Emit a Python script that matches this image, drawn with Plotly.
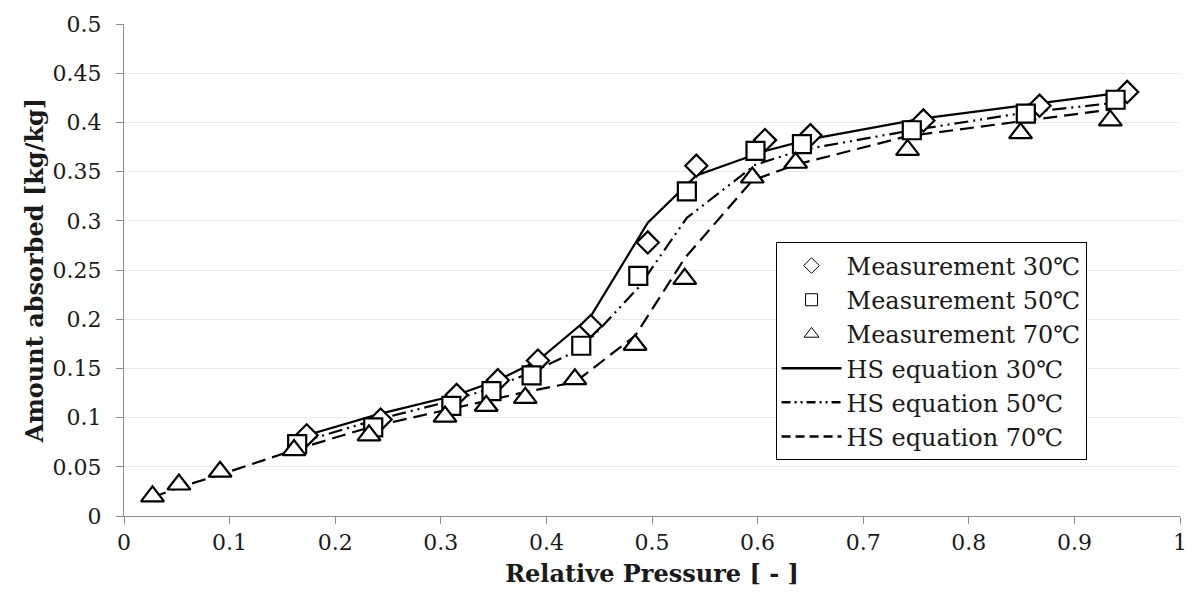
import plotly.graph_objects as go

# Measurement data
x_m30 = [0.173, 0.243, 0.315, 0.354, 0.392, 0.442, 0.496, 0.542, 0.607, 0.650, 0.757, 0.867, 0.950]
y_m30 = [0.082, 0.098, 0.123, 0.138, 0.158, 0.193, 0.278, 0.356, 0.382, 0.387, 0.402, 0.417, 0.431]

x_m50 = [0.164, 0.236, 0.310, 0.348, 0.386, 0.433, 0.487, 0.533, 0.598, 0.642, 0.746, 0.854, 0.939]
y_m50 = [0.073, 0.090, 0.112, 0.127, 0.143, 0.173, 0.244, 0.330, 0.371, 0.378, 0.392, 0.409, 0.423]

x_m70 = [0.027, 0.052, 0.091, 0.161, 0.232, 0.304, 0.343, 0.380, 0.427, 0.484, 0.531, 0.595, 0.636, 0.742, 0.849, 0.934]
y_m70 = [0.020, 0.032, 0.045, 0.067, 0.082, 0.101, 0.112, 0.120, 0.139, 0.174, 0.241, 0.344, 0.359, 0.372, 0.389, 0.402]

# HS equation curves
y_hs30 = [0.082, 0.104, 0.123, 0.138, 0.158, 0.203, 0.298, 0.346, 0.371, 0.383, 0.404, 0.419, 0.431]
y_hs50 = [0.074, 0.097, 0.117, 0.130, 0.146, 0.170, 0.232, 0.303, 0.357, 0.372, 0.392, 0.410, 0.420]
y_hs70 = [0.019, 0.029, 0.042, 0.067, 0.090, 0.108, 0.117, 0.126, 0.136, 0.183, 0.262, 0.341, 0.357, 0.386, 0.401, 0.413]

names = ["Measurement 30℃", "Measurement 50℃", "Measurement 70℃",
         "HS equation 30℃", "HS equation 50℃", "HS equation 70℃"]

FONT = "DejaVu Serif"
TXT = "#1a1a1a"
line_w = 2.2
DASHDOT = "14px,5px,2px,5px,2px,5px"
DASH = "14px,7px"

fig = go.Figure()

# Curves (drawn beneath markers)
fig.add_trace(go.Scatter(x=x_m30, y=y_hs30, mode="lines", showlegend=False,
                         line=dict(color="black", width=line_w)))
fig.add_trace(go.Scatter(x=x_m50, y=y_hs50, mode="lines", showlegend=False,
                         line=dict(color="black", width=line_w, dash=DASHDOT)))
fig.add_trace(go.Scatter(x=x_m70, y=y_hs70, mode="lines", showlegend=False,
                         line=dict(color="black", width=line_w, dash=DASH)))

# Measurements
fig.add_trace(go.Scatter(x=x_m30, y=y_m30, mode="markers", showlegend=False,
                         marker=dict(symbol="diamond", size=17, color="white",
                                     line=dict(color="black", width=2.2))))
fig.add_trace(go.Scatter(x=x_m50, y=y_m50, mode="markers", showlegend=False,
                         marker=dict(symbol="square", size=18, color="white",
                                     line=dict(color="black", width=2.2))))
fig.add_trace(go.Scatter(x=x_m70, y=y_m70, mode="markers", showlegend=False,
                         marker=dict(symbol="triangle-up", size=20, color="white",
                                     line=dict(color="black", width=2.2))))

# Legend entries (small thin markers as in the original legend)
legend_specs = [
    dict(mode="markers", marker=dict(symbol="diamond", size=12, color="white", line=dict(color="black", width=1))),
    dict(mode="markers", marker=dict(symbol="square", size=12, color="white", line=dict(color="black", width=1))),
    dict(mode="markers", marker=dict(symbol="triangle-up", size=13, color="white", line=dict(color="black", width=1))),
    dict(mode="lines", line=dict(color="black", width=2.5)),
    dict(mode="lines", line=dict(color="black", width=2.5, dash="9px,4px,2px,4px,2px,4px")),
    dict(mode="lines", line=dict(color="black", width=2.5, dash="9px,5px")),
]
for nm, spec in zip(names, legend_specs):
    fig.add_trace(go.Scatter(x=[None], y=[None], name=nm, showlegend=True, **spec))

fig.update_layout(
    width=1199, height=610,
    margin=dict(l=124, r=15, t=20, b=94),
    paper_bgcolor="white", plot_bgcolor="white",
    font=dict(family=FONT, size=22, color=TXT),
    showlegend=True,
    legend=dict(x=0.617, y=0.556, xanchor="left", yanchor="top",
                bgcolor="white", bordercolor="black", borderwidth=1,
                font=dict(family=FONT, size=24, color=TXT),
                itemwidth=60, tracegroupgap=0),
)

fig.update_xaxes(range=[0, 1], dtick=0.1, tick0=0,
                 showline=True, linecolor="#8c8c8c", linewidth=1,
                 ticks="outside", ticklen=7, tickcolor="#8c8c8c",
                 showgrid=False, zeroline=False,
                 tickfont=dict(family=FONT, size=22, color=TXT),
                 title=dict(text="<b>Relative Pressure [ - ]</b>",
                            font=dict(family=FONT, size=24, color=TXT), standoff=10))
fig.update_yaxes(range=[0, 0.5], dtick=0.05, tick0=0,
                 showline=True, linecolor="#8c8c8c", linewidth=1,
                 ticks="outside", ticklen=7, tickcolor="#8c8c8c",
                 ticklabelstandoff=10,
                 showgrid=True, gridcolor="#ecebe3", gridwidth=1,
                 zeroline=False,
                 tickfont=dict(family=FONT, size=22, color=TXT),
                 title=dict(text="<b>Amount absorbed [kg/kg]</b>",
                            font=dict(family=FONT, size=24, color=TXT), standoff=2))

fig.write_html("out.html")
